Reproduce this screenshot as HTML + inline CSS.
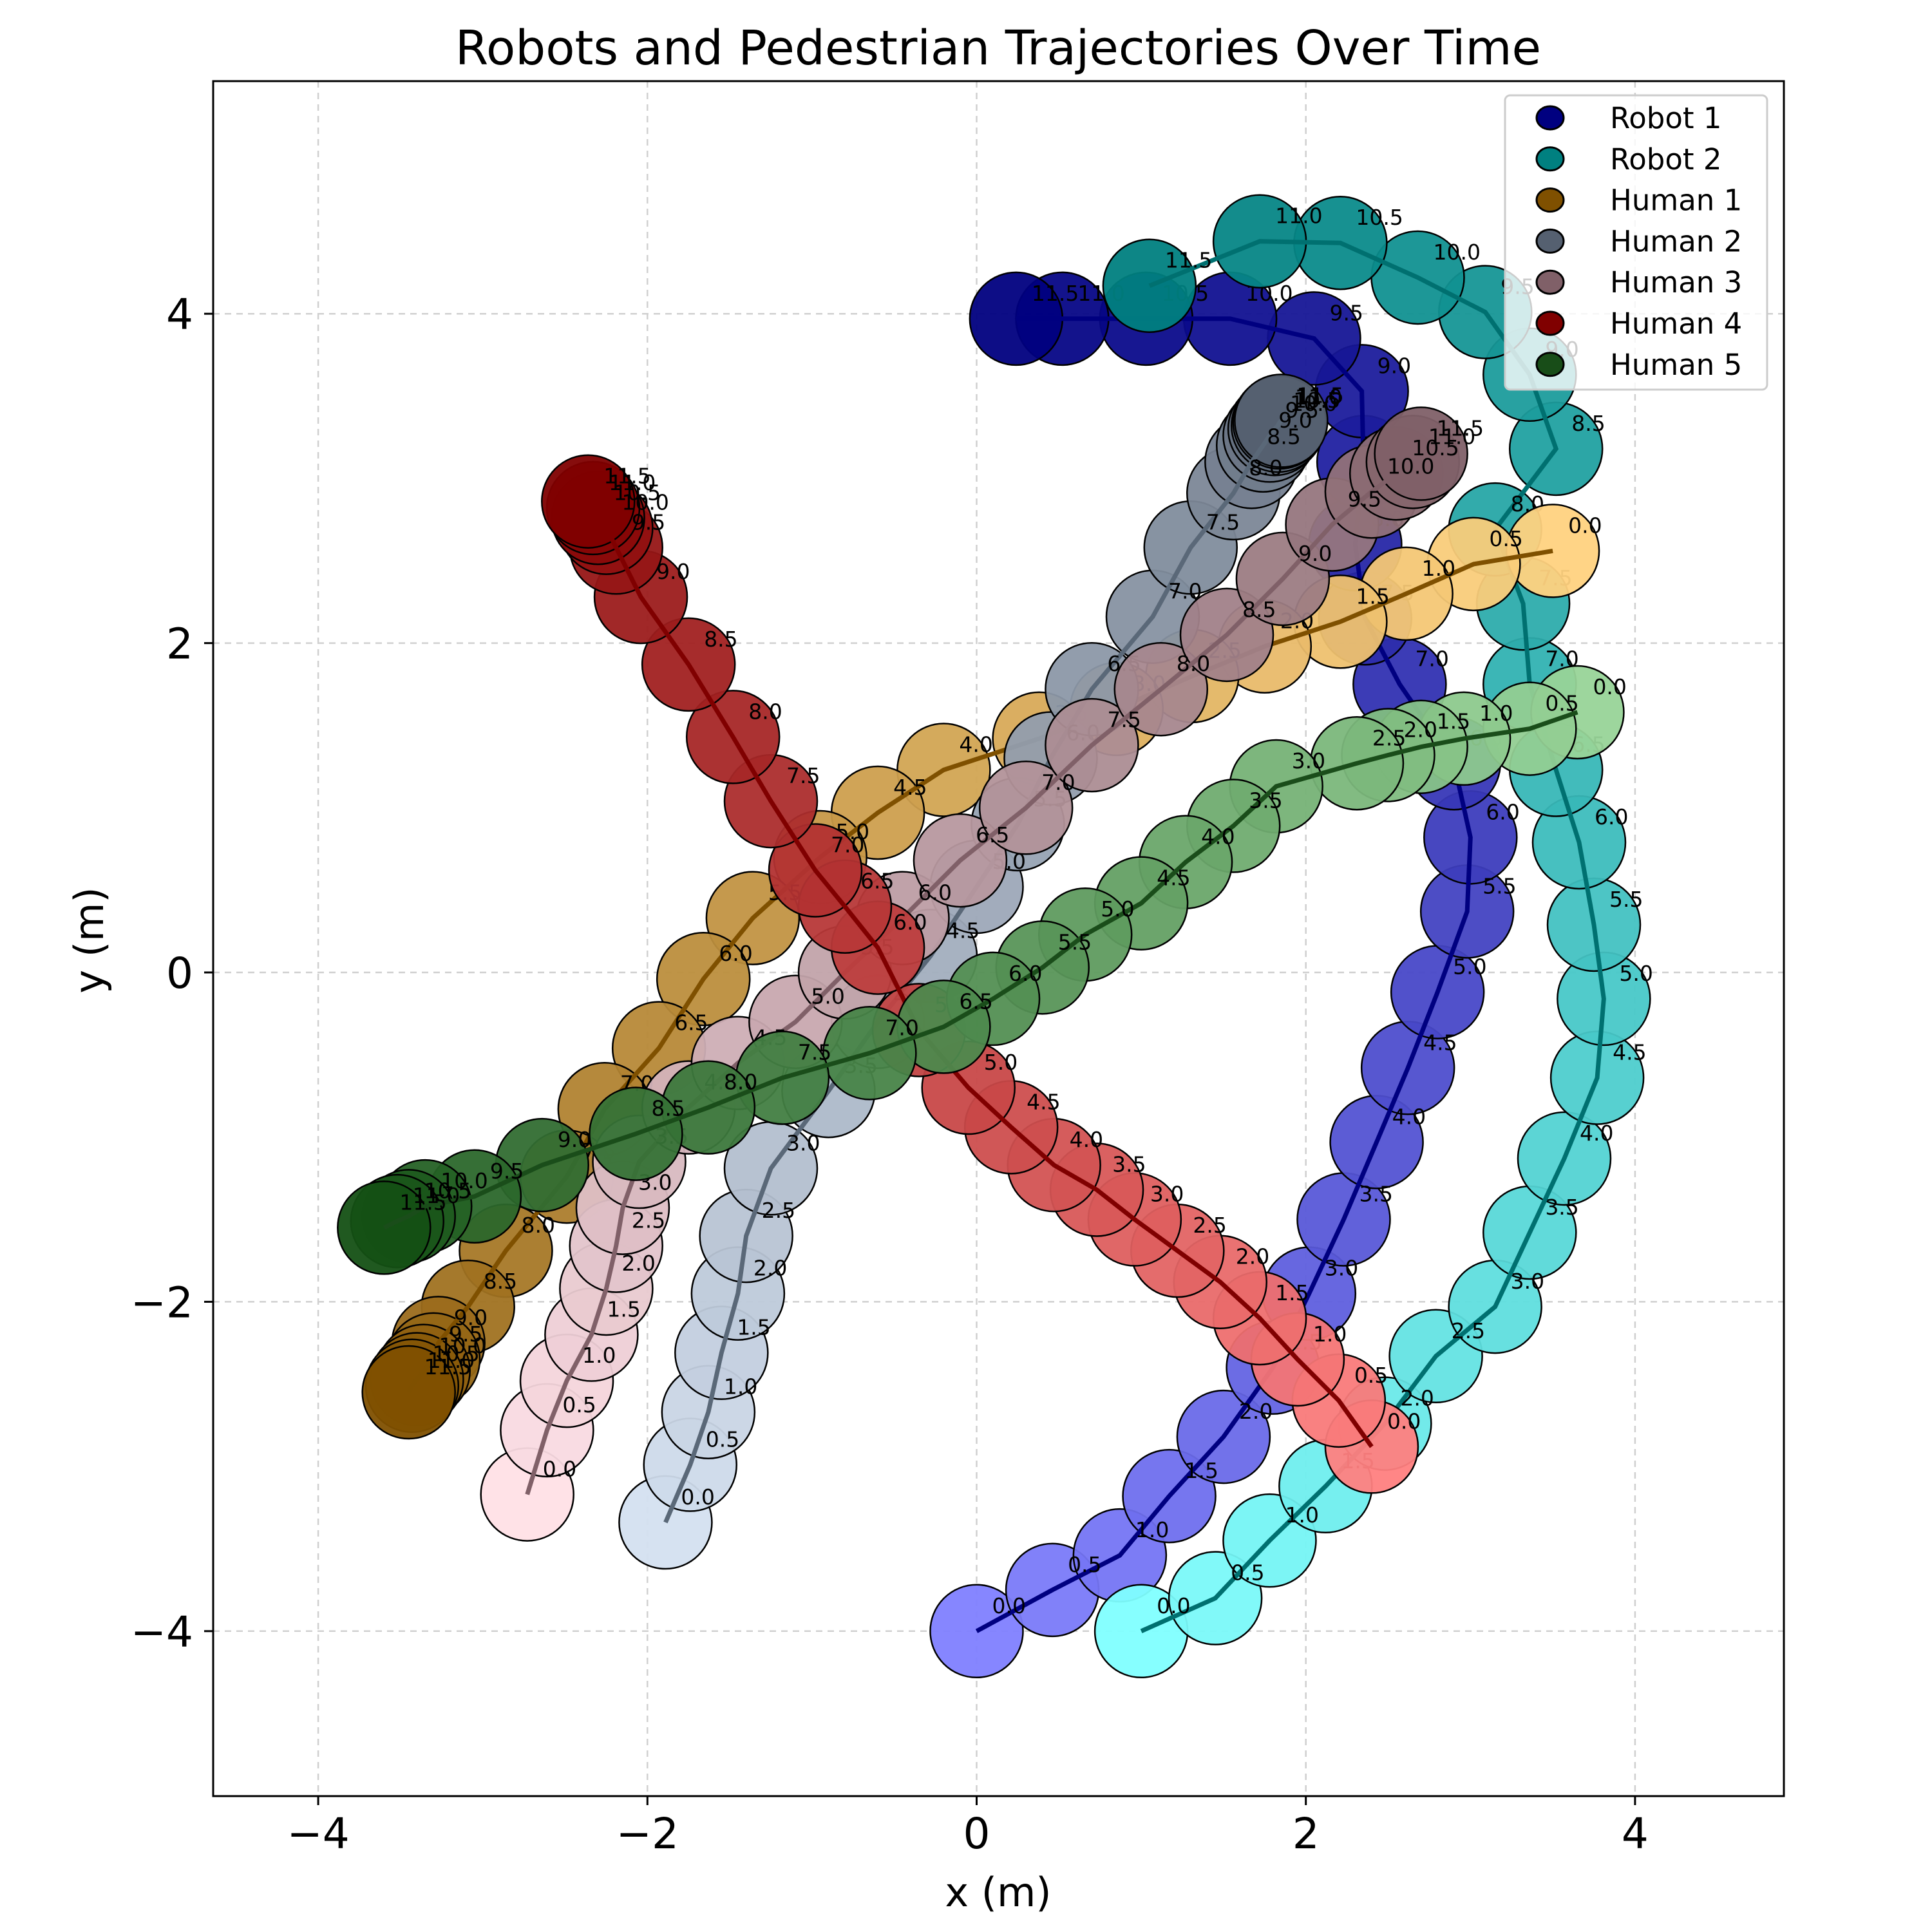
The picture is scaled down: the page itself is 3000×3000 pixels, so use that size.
<!DOCTYPE html>
<html><head><meta charset="utf-8"><style>
html,body{margin:0;padding:0;background:#fff}
svg{display:block;font-family:"DejaVu Sans","Liberation Sans",sans-serif}
</style></head><body>
<svg id="chart" width="3000" height="3000" viewBox="0 0 3000 3000" xmlns="http://www.w3.org/2000/svg">
<rect width="3000" height="3000" fill="#fff"/>
<text x="1550" y="100" font-size="74" text-anchor="middle">Robots and Pedestrian Trajectories Over Time</text>
<text x="1550" y="2960" font-size="62" text-anchor="middle">x (m)</text>
<text x="0" y="0" font-size="62" text-anchor="middle" transform="translate(160,1460) rotate(-90)">y (m)</text>
<g id="grid"></g>
<g id="plot"></g>
<rect x="331" y="126" width="2439" height="2663" fill="none" stroke="#000" stroke-width="3"/>
<g id="ticks"></g>
<g id="legend"></g>
</svg>
<script>
const timeLabels = ["0.0","0.5","1.0","1.5","2.0","2.5","3.0","3.5","4.0","4.5","5.0","5.5","6.0","6.5","7.0","7.5","8.0","8.5","9.0","9.5","10.0","10.5","11.0","11.5"];
const xTicks = [-4,-2,0,2,4];
const yTicks = [-4,-2,0,2,4];
const r1X = [0,0.46,0.87,1.17,1.5,1.8,2.02,2.23,2.43,2.62,2.8,2.98,3.0,2.9,2.57,2.36,2.3,2.35,2.34,2.05,1.54,1.03,0.52,0.24];
const r1Y = [-4,-3.75,-3.54,-3.18,-2.82,-2.4,-1.95,-1.5,-1.03,-0.58,-0.12,0.37,0.82,1.27,1.75,2.15,2.6,3.1,3.53,3.85,3.97,3.97,3.97,3.97];
const r2X = [1.0,1.45,1.78,2.12,2.48,2.79,3.15,3.36,3.57,3.77,3.81,3.75,3.66,3.52,3.36,3.32,3.15,3.52,3.36,3.09,2.68,2.21,1.72,1.05];
const r2Y = [-4.0,-3.8,-3.45,-3.12,-2.74,-2.33,-2.03,-1.58,-1.13,-0.64,-0.16,0.29,0.79,1.23,1.75,2.24,2.69,3.18,3.63,4.01,4.22,4.43,4.44,4.17];
const h1X = [3.5,3.02,2.61,2.21,1.75,1.31,0.85,0.38,-0.2,-0.6,-0.95,-1.36,-1.66,-1.93,-2.26,-2.49,-2.86,-3.09,-3.27,-3.3,-3.36,-3.4,-3.43,-3.45];
const h1Y = [2.56,2.48,2.3,2.13,1.98,1.8,1.6,1.42,1.23,0.97,0.7,0.33,-0.04,-0.46,-0.83,-1.24,-1.69,-2.03,-2.25,-2.35,-2.42,-2.47,-2.51,-2.55];
const h2X = [-1.89,-1.74,-1.63,-1.55,-1.45,-1.4,-1.25,-0.9,-0.6,-0.28,0.0,0.25,0.45,0.7,1.07,1.3,1.56,1.67,1.74,1.78,1.81,1.83,1.84,1.85];
const h2Y = [-3.34,-2.99,-2.67,-2.31,-1.95,-1.6,-1.19,-0.72,-0.3,0.1,0.52,0.9,1.3,1.72,2.16,2.58,2.91,3.1,3.2,3.26,3.3,3.32,3.34,3.35];
const h3X = [-2.73,-2.61,-2.49,-2.34,-2.25,-2.19,-2.15,-2.05,-1.75,-1.45,-1.1,-0.8,-0.45,-0.1,0.3,0.7,1.12,1.52,1.86,2.16,2.4,2.55,2.65,2.7];
const h3Y = [-3.17,-2.78,-2.48,-2.2,-1.92,-1.66,-1.43,-1.15,-0.82,-0.55,-0.3,0.0,0.33,0.68,1.0,1.38,1.72,2.05,2.39,2.72,2.92,3.03,3.1,3.15];
const h4X = [2.4,2.2,1.95,1.72,1.48,1.22,0.96,0.73,0.47,0.21,-0.05,-0.35,-0.6,-0.8,-0.98,-1.25,-1.48,-1.75,-2.04,-2.19,-2.25,-2.3,-2.33,-2.36];
const h4Y = [-2.88,-2.6,-2.35,-2.1,-1.88,-1.69,-1.5,-1.32,-1.17,-0.94,-0.7,-0.35,0.15,0.4,0.62,1.04,1.43,1.87,2.28,2.58,2.7,2.76,2.82,2.86];
const h5X = [3.65,3.36,2.96,2.7,2.5,2.31,1.82,1.56,1.27,1.0,0.66,0.4,0.1,-0.2,-0.65,-1.18,-1.63,-2.07,-2.64,-3.05,-3.35,-3.45,-3.52,-3.6];
const h5Y = [1.58,1.48,1.42,1.37,1.32,1.27,1.13,0.89,0.67,0.42,0.23,0.03,-0.16,-0.33,-0.49,-0.64,-0.82,-0.98,-1.17,-1.36,-1.42,-1.48,-1.51,-1.55];
const agentNames = ["Robot 1","Robot 2","Human 1","Human 2","Human 3","Human 4","Human 5"];

const NS = "http://www.w3.org/2000/svg";
const X = v => 1516.5 + 255.6 * v;
const Y = v => 1510 - 255.7 * v;
function mk(tag, attrs, parent) {
  const e = document.createElementNS(NS, tag);
  for (const k in attrs) e.setAttribute(k, attrs[k]);
  parent.appendChild(e);
  return e;
}
function hex(c){return [parseInt(c.slice(1,3),16),parseInt(c.slice(3,5),16),parseInt(c.slice(5,7),16)];}
function mix(a,b,t){const A=hex(a),B=hex(b);return "rgb("+A.map((v,i)=>Math.round(v+(B[i]-v)*t)).join(",")+")";}

const styles = [
  {light:"#8080ff",dark:"#000080",line:"#000080",leg:"#000080"},
  {light:"#80ffff",dark:"#008080",line:"#007070",leg:"#008080"},
  {light:"#ffd280",dark:"#7f5000",line:"#7f5000",leg:"#7f5000"},
  {light:"#d4e0f0",dark:"#556070",line:"#5a6878",leg:"#556070"},
  {light:"#ffe0e6",dark:"#806068",line:"#806068",leg:"#806068"},
  {light:"#ff8080",dark:"#800000",line:"#800000",leg:"#800000"},
  {light:"#98d498",dark:"#145014",line:"#1a4d1a",leg:"#184d18"}
];
const xsAll = [r1X,r2X,h1X,h2X,h3X,h4X,h5X];
const ysAll = [r1Y,r2Y,h1Y,h2Y,h3Y,h4Y,h5Y];

const grid = document.getElementById('grid');
xTicks.forEach(v => {
  const l = mk('line',{x1:X(v),x2:X(v),y1:126,y2:2789,stroke:"#d0d0d0","stroke-width":2.5,"stroke-dasharray":"10,8"},grid);
  
  
});
yTicks.forEach(v => {
  const l = mk('line',{x1:331,x2:2770,y1:Y(v),y2:Y(v),stroke:"#d0d0d0","stroke-width":2.5,"stroke-dasharray":"10,8"},grid);
  
  
});

const plot = document.getElementById('plot');
xsAll.forEach((xs, a) => {
  const ys = ysAll[a], st = styles[a];
  const g = mk('g',{},plot);
  
  
  xs.forEach((x, i) => {
    const c = mk('circle',{cx:X(x),cy:Y(ys[i]),r:72,fill:mix(st.light,st.dark,i/(xs.length-1)),"fill-opacity":0.95,stroke:"#000","stroke-width":2.5},g);
    
    
  });
  const p = mk('polyline',{points:xs.map((x,i)=>X(x)+","+Y(ys[i])).join(" "),fill:"none",stroke:st.line,"stroke-width":7},g);
  
  
  xs.forEach((x, i) => {
    const t = mk('text',{x:X(x)+24,y:Y(ys[i])-28,"font-size":33,fill:"#000"},g);
    t.textContent = timeLabels[i];
    
    
  });
});

const ticks = document.getElementById('ticks');
xTicks.forEach(v => {
  mk('line',{x1:X(v),x2:X(v),y1:2789,y2:2803,stroke:"#000","stroke-width":3},ticks);
  const t = mk('text',{x:X(v),y:2870,"font-size":66,"text-anchor":"middle"},ticks);
  t.textContent = v < 0 ? "\u2212" + Math.abs(v) : String(v);
  
  
});
yTicks.forEach(v => {
  mk('line',{x1:317,x2:331,y1:Y(v),y2:Y(v),stroke:"#000","stroke-width":3},ticks);
  const t = mk('text',{x:300,y:Y(v)+24,"font-size":66,"text-anchor":"end"},ticks);
  t.textContent = v < 0 ? "\u2212" + Math.abs(v) : String(v);
  
  
});

const leg = document.getElementById('legend');


mk('rect',{x:2337,y:148,width:407,height:457,rx:8,fill:"#fff","fill-opacity":0.8,stroke:"#cccccc","stroke-width":3},leg);
agentNames.forEach((n, i) => {
  const cy = 183 + i * 63.8;
  const e = mk('ellipse',{cx:2407,cy:cy,rx:21,ry:18,fill:styles[i].leg,stroke:"#000","stroke-width":3},leg);
  
  
  const t = mk('text',{x:2500,y:cy+16,"font-size":45},leg);
  t.textContent = n;
  
  
});
</script>
</body></html>
